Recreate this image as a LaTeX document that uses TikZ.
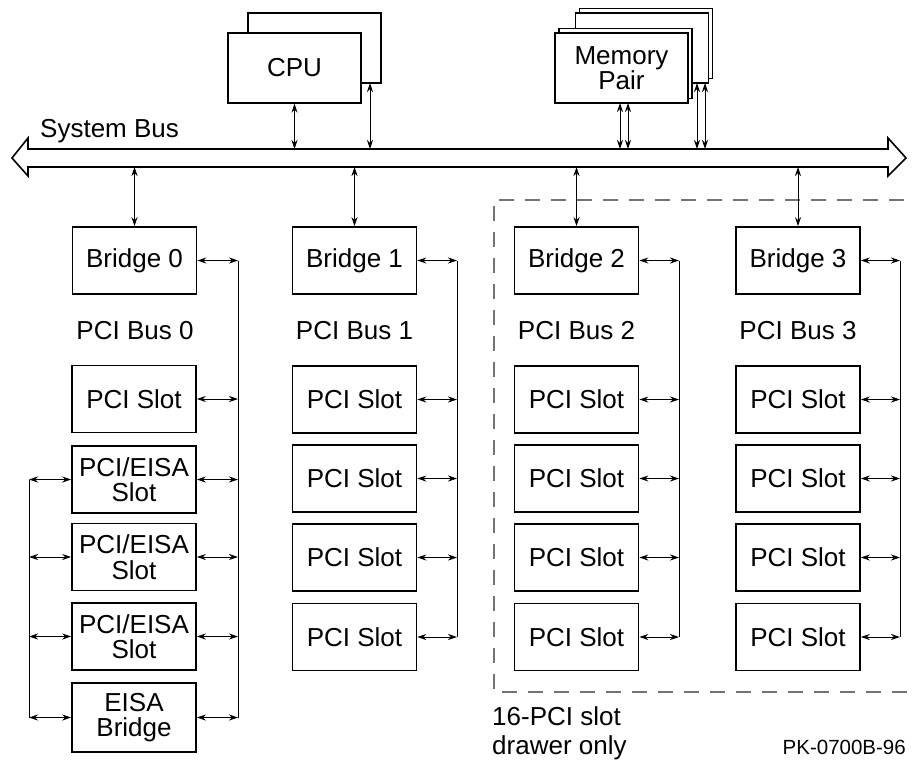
\documentclass[tikz,border=0pt]{standalone}
\usepackage{fontspec}
\setmainfont{Liberation Sans}
\usetikzlibrary{arrows.meta}

\begin{document}
\begin{tikzpicture}[x=1pt, y=-1pt,
		box/.style={draw, line width=1.6pt, fill=white, inner sep=0pt, minimum width=124pt, minimum height=67pt, align=center, font=\fontsize{26}{25.5}\selectfont},
		board/.style={box, line width=1.4pt, minimum width=133pt, minimum height=70pt},
		label text/.style={inner sep=0pt, font=\fontsize{26}{25.5}\selectfont},
		link/.style={{Stealth[length=9pt,width=6pt,inset=3pt]}-{Stealth[length=9pt,width=6pt,inset=3pt]}, line width=1pt},
		rail line/.style={line width=1pt}]
				\useasboundingbox (0,0) rectangle (914,761);
				% drawer frame, open to the right
				\draw[black!55, line width=1.8pt, dash pattern=on 15pt off 11pt] (930,200) -- (494,200) -- (494,692) -- (930,692);
				% system bus
				\draw[line width=1.6pt, line join=miter] (28,149) -- (888,149) -- (888,138) -- (906,158) -- (888,176) -- (888,167) -- (28,167) -- (28,176) -- (12,158) -- (28,138) -- cycle;
				\coordinate (bustop) at (0,149);
				\coordinate (busbot) at (0,167);
				\node[label text, anchor=base west] (sysbus) at (40,137) {System Bus};
				% CPU and memory
				\node[board] (cpuback) at (314.5,48) {};
				\node[board] (cpu) at (294.5,68) {CPU};
				\node[board] (memd) at (646,43.5) {};
				\node[board] (memc) at (642,48) {};
				\node[board] (memb) at (625.5,63.5) {};
				\node[board] (mema) at (621.5,68) {Memory\\Pair};
				\coordinate (cpuport) at (370,83);
				\coordinate (memport1) at (620,103);
				\coordinate (memport2) at (628,103);
				\coordinate (memport3) at (697,83);
				\coordinate (memport4) at (705,83);
				\draw[link] (cpu.south) -- (cpu.south |- bustop);
				\draw[link] (cpuport) -- (cpuport |- bustop);
				\draw[link] (memport1) -- (memport1 |- bustop);
				\draw[link] (memport2) -- (memport2 |- bustop);
				\draw[link] (memport3) -- (memport3 |- bustop);
				\draw[link] (memport4) -- (memport4 |- bustop);
				% PCI bus 0 with the EISA side
				\node[box] (bridge0) at (134.5,260.5) {Bridge 0};
				\node[label text] (pcibus0) at (135,331) {PCI Bus 0};
				\node[box] (slot01) at (134,399) {PCI Slot};
				\node[box] (slot02) at (134,479.5) {PCI/EISA\\Slot};
				\node[box] (slot03) at (134,557) {PCI/EISA\\Slot};
				\node[box] (slot04) at (134,636.5) {PCI/EISA\\Slot};
				\node[box, minimum height=69pt] (eisabridge) at (134,717.5) {EISA\\Bridge};
				\coordinate (rail0) at (238,0);
				\coordinate (eisarail) at (29,0);
				\draw[link] (bridge0.north) -- (bridge0.north |- busbot);
				\draw[link] (bridge0.east) -- (bridge0.east -| rail0);
				\draw[link] (slot01.east) -- (slot01.east -| rail0);
				\draw[link] (slot02.east) -- (slot02.east -| rail0);
				\draw[link] (slot03.east) -- (slot03.east -| rail0);
				\draw[link] (slot04.east) -- (slot04.east -| rail0);
				\draw[link] (eisabridge.east) -- (eisabridge.east -| rail0);
				\draw[rail line] (bridge0.east -| rail0) -- (eisabridge.east -| rail0);
				\draw[link] (slot02.west) -- (slot02.west -| eisarail);
				\draw[link] (slot03.west) -- (slot03.west -| eisarail);
				\draw[link] (slot04.west) -- (slot04.west -| eisarail);
				\draw[link] (eisabridge.west) -- (eisabridge.west -| eisarail);
				\draw[rail line] (slot02.west -| eisarail) -- (eisabridge.west -| eisarail);
				% PCI buses 1 to 3
				\foreach \n/\x/\v in {1/354.5/457, 2/576.5/679, 3/798/900} {
					\node[box] (bridge\n) at (\x,260.5) {Bridge \n};
					\node[label text] (pcibus\n) at (\x,331) {PCI Bus \n};
					\coordinate (rail\n) at (\v,0);
					\draw[link] (bridge\n.north) -- (bridge\n.north |- busbot);
					\draw[link] (bridge\n.east) -- (bridge\n.east -| rail\n);
					\foreach \y [count=\k] in {399.5,478.5,557.5,637} {
						\node[box] (slot\n\k) at (\x,\y) {PCI Slot};
						\draw[link] (slot\n\k.east) -- (slot\n\k.east -| rail\n);
					}
					\draw[rail line] (bridge\n.east -| rail\n) -- (slot\n4.east -| rail\n);
				}
				% notes
				\node[label text, anchor=north west, align=left, font=\fontsize{26}{29}\selectfont] (drawer) at (492,706) {16-PCI slot\\drawer only};
				\node[inner sep=0pt, anchor=base east, font=\fontsize{20.5}{20.5}\selectfont] (partno) at (906,754) {PK-0700B-96};
			\end{tikzpicture}
\end{document}
